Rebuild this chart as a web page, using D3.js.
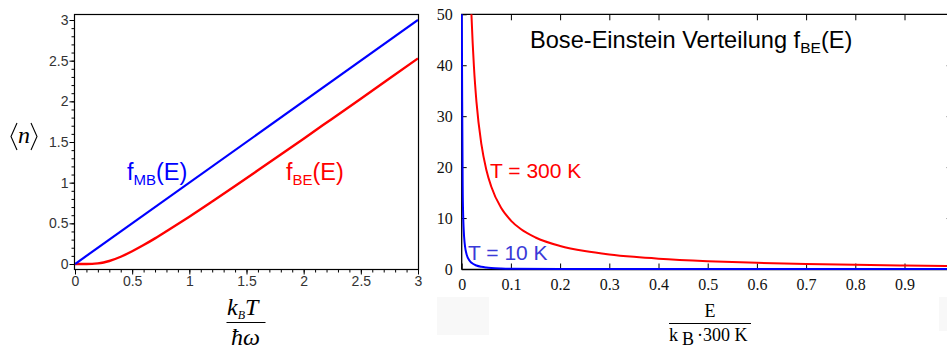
<!DOCTYPE html>
<html>
<head>
<meta charset="utf-8">
<script src="https://cdn.jsdelivr.net/npm/d3@7"></script>
<style>
  body { margin: 0; background: #fff; }
  svg { display: block; }
</style>
</head>
<body>
<div id="chart"></div>
<script>
// left panel: mean occupation vs kT/hw
const mbT = [0, 3];
const mbN = [0, 3];
const beT = [0, 0.1, 0.15, 0.2, 0.25, 0.3, 0.4, 0.5, 0.6, 0.7, 0.8, 0.9, 1.0, 1.2, 1.4, 1.6, 1.8, 2.0, 2.25, 2.5, 2.75, 3.0];
const beN = [0, 0, 0.001, 0.007, 0.019, 0.037, 0.089, 0.157, 0.233, 0.315, 0.402, 0.491, 0.582, 0.769, 0.959, 1.152, 1.346, 1.541, 1.787, 2.033, 2.28, 2.528];
const leftTicks = [0, 0.5, 1, 1.5, 2, 2.5, 3];

// right panel: Bose-Einstein distribution, E in units of kB*300K
const energy300 = [0.019, 0.02, 0.025, 0.03, 0.04, 0.05, 0.06, 0.08, 0.1, 0.12, 0.15, 0.2, 0.25, 0.3, 0.35, 0.4, 0.5, 0.6, 0.7, 0.8, 0.9, 1.0];
const f300 = [52.1, 49.5, 39.5, 32.8, 24.5, 19.5, 16.2, 12.0, 9.51, 7.84, 6.18, 4.52, 3.52, 2.86, 2.39, 2.03, 1.54, 1.22, 0.99, 0.82, 0.69, 0.58];
const energy10 = [0, 0.001, 0.002, 0.003, 0.004, 0.006, 0.008, 0.01, 0.015, 0.02, 0.03, 0.04, 0.05, 0.06, 0.08, 0.1, 0.2, 0.4, 0.6, 0.8, 1.0];
const f10 = [55, 32.8, 16.2, 10.6, 7.84, 5.07, 3.69, 2.86, 1.76, 1.22, 0.69, 0.43, 0.29, 0.2, 0.1, 0.05, 0, 0, 0, 0, 0];
const rightXTicks = [0, 0.1, 0.2, 0.3, 0.4, 0.5, 0.6, 0.7, 0.8, 0.9];
const rightYTicks = [0, 10, 20, 30, 40, 50];

const W = 947, H = 349;
const sans = 'Liberation Sans, Arial, sans-serif';
const serif = 'Liberation Serif, Times New Roman, serif';

const svg = d3.select('#chart').append('svg')
  .attr('width', W).attr('height', H)
  .style('font-family', sans);

svg.append('rect').attr('width', W).attr('height', H).attr('fill', '#fff');

// ---------- left panel ----------
const xL = d3.scaleLinear().domain([0, 3]).range([75, 418]);
const yL = d3.scaleLinear().domain([0, 3]).range([264, 20]);
const gL = svg.append('g');

gL.append('rect')
  .attr('x', 74.5).attr('y', 14.5)
  .attr('width', 344).attr('height', 255)
  .attr('fill', 'none').attr('stroke', '#000').attr('stroke-width', 1.2);

const minor = d3.range(0, 3.01, 0.1).map(d => +d.toFixed(1));

// minor ticks
gL.append('g').attr('transform', 'translate(0,269.5)')
  .call(d3.axisBottom(xL).tickValues(minor).tickSize(3).tickFormat(''))
  .call(g => g.select('.domain').remove());
gL.append('g').attr('transform', 'translate(74.5,0)')
  .call(d3.axisLeft(yL).tickValues(minor).tickSize(3).tickFormat(''))
  .call(g => g.select('.domain').remove());

// major ticks + labels
const fmt = d => d3.format('~g')(d);
const sansTick = g => g.selectAll('text')
  .style('font-family', sans).style('font-size', '14px').style('fill', '#333');
gL.append('g').attr('transform', 'translate(0,269.5)')
  .call(d3.axisBottom(xL).tickValues(leftTicks).tickSize(5).tickPadding(2).tickFormat(fmt))
  .call(g => g.select('.domain').remove())
  .call(sansTick);
gL.append('g').attr('transform', 'translate(74.5,0)')
  .call(d3.axisLeft(yL).tickValues(leftTicks).tickSize(5).tickPadding(1).tickFormat(fmt))
  .call(g => g.select('.domain').remove())
  .call(sansTick);

gL.selectAll('.tick line').attr('stroke', '#000');

gL.append('clipPath').attr('id', 'clipL')
  .append('rect').attr('x', 75).attr('y', 15).attr('width', 343).attr('height', 254);

const lineL = d3.line().x(d => xL(d[0])).y(d => yL(d[1])).curve(d3.curveMonotoneX);

gL.append('path')
  .datum(beT.map((t, i) => [t, beN[i]]))
  .attr('d', lineL).attr('fill', 'none')
  .attr('stroke', '#ff0000').attr('stroke-width', 2.4)
  .attr('clip-path', 'url(#clipL)');
gL.append('path')
  .datum(mbT.map((t, i) => [t, mbN[i]]))
  .attr('d', lineL).attr('fill', 'none')
  .attr('stroke', '#0000ff').attr('stroke-width', 2.2)
  .attr('clip-path', 'url(#clipL)');

// annotations
const tMB = gL.append('text').attr('x', 127).attr('y', 180).style('font-size', '23.5px').attr('fill', '#0000ff');
tMB.append('tspan').text('f');
tMB.append('tspan').style('font-size', '15px').attr('dy', 5).text('MB');
tMB.append('tspan').attr('dy', -5).text('(E)');

const tBE = gL.append('text').attr('x', 286).attr('y', 180).style('font-size', '23.5px').attr('fill', '#ff0000');
tBE.append('tspan').text('f');
tBE.append('tspan').style('font-size', '15px').attr('dy', 5).text('BE');
tBE.append('tspan').attr('dy', -5).text('(E)');

// y label <n>
gL.append('path')
  .attr('d', 'M17,123 L11,136.5 L17,150 M31,123 L37,136.5 L31,150')
  .attr('fill', 'none').attr('stroke', '#000').attr('stroke-width', 1.1);
gL.append('text').attr('x', 24).attr('y', 143)
  .attr('text-anchor', 'middle')
  .style('font-family', serif).style('font-style', 'italic').style('font-size', '24px').text('n');

// x label kB T / hbar omega
const num = gL.append('text').attr('x', 227).attr('y', 315)
  .style('font-family', serif).style('font-style', 'italic').style('font-size', '24px');
num.append('tspan').text('k');
num.append('tspan').style('font-size', '12px').attr('dy', 4).text('B');
num.append('tspan').attr('dy', -4).text('T');
gL.append('line').attr('x1', 226.5).attr('x2', 265.5).attr('y1', 322.5).attr('y2', 322.5)
  .attr('stroke', '#000').attr('stroke-width', 1.2);
gL.append('text').attr('x', 245.5).attr('y', 345).attr('text-anchor', 'middle')
  .style('font-family', serif).style('font-style', 'italic').style('font-size', '24px')
  .text('ħω');

// ---------- right panel ----------
const xR = d3.scaleLinear().domain([0, 1]).range([461.7, 953.7]);
const yR = d3.scaleLinear().domain([0, 50]).range([269, 14.3]);
const gR = svg.append('g');

// faint patches behind the axis label
gR.append('rect').attr('x', 437).attr('y', 297).attr('width', 52).attr('height', 38).attr('fill', '#f8f8f8');
gR.append('rect').attr('x', 939).attr('y', 297).attr('width', 8).attr('height', 34).attr('fill', '#f8f8f8');

gR.append('path')
  .attr('d', 'M461.7,269.5 L461.7,14.3 L947,14.3 M461.7,269.5 L947,269.5')
  .attr('fill', 'none').attr('stroke', '#000').attr('stroke-width', 1.3);

const serifTick = g => g.selectAll('text')
  .style('font-family', serif).style('font-size', '16px').style('fill', '#111');

gR.append('g').attr('transform', 'translate(0,269.5)')
  .call(d3.axisBottom(xR).tickValues(rightXTicks).tickSizeInner(-6).tickSizeOuter(0).tickPadding(9)
    .tickFormat(d3.format('~g')))
  .call(g => g.select('.domain').remove())
  .call(serifTick);
gR.append('g').attr('transform', 'translate(0,14.3)')
  .call(d3.axisTop(xR).tickValues(rightXTicks.slice(1)).tickSizeInner(-6).tickSizeOuter(0).tickFormat(''))
  .call(g => g.select('.domain').remove());
gR.append('g').attr('transform', 'translate(461.7,0)')
  .call(d3.axisLeft(yR).tickValues(rightYTicks).tickSizeInner(-5).tickSizeOuter(0).tickPadding(9)
    .tickFormat(d3.format('d')))
  .call(g => g.select('.domain').remove())
  .call(serifTick);
gR.append('g').attr('transform', 'translate(953.7,0)')
  .call(d3.axisRight(yR).tickValues(rightYTicks.slice(1, 5)).tickSizeInner(-7).tickSizeOuter(0).tickFormat(''))
  .call(g => g.select('.domain').remove());

gR.selectAll('.tick line').attr('stroke', '#000');

gR.append('clipPath').attr('id', 'clipR')
  .append('rect').attr('x', 461).attr('y', 14.3).attr('width', 490).attr('height', 256);

const lineR = d3.line().x(d => xR(d[0])).y(d => yR(d[1])).curve(d3.curveMonotoneX);

gR.append('path')
  .datum(energy300.map((e, i) => [e, f300[i]]))
  .attr('d', lineR).attr('fill', 'none')
  .attr('stroke', '#ff0000').attr('stroke-width', 2)
  .attr('clip-path', 'url(#clipR)');
gR.append('path')
  .datum(energy10.map((e, i) => [e, f10[i]]))
  .attr('d', lineR).attr('fill', 'none')
  .attr('stroke', '#0000ff').attr('stroke-width', 2)
  .attr('clip-path', 'url(#clipR)');

// title
const title = gR.append('text').attr('x', 530).attr('y', 48).style('font-size', '23.6px').attr('fill', '#000');
title.append('tspan').text('Bose-Einstein Verteilung f');
title.append('tspan').style('font-size', '15.5px').attr('dy', 5).text('BE');
title.append('tspan').attr('dy', -5).text('(E)');

gR.append('text').attr('x', 490).attr('y', 178).style('font-size', '21px').attr('fill', '#ff0000').text('T = 300 K');
gR.append('text').attr('x', 468).attr('y', 260).style('font-size', '21px').attr('fill', '#3a3ad8').text('T = 10 K');

// x label E / (kB . 300 K)
gR.append('text').attr('x', 710).attr('y', 317).attr('text-anchor', 'middle')
  .style('font-family', serif).style('font-size', '18px').text('E');
gR.append('line').attr('x1', 669).attr('x2', 751).attr('y1', 323.5).attr('y2', 323.5)
  .attr('stroke', '#000').attr('stroke-width', 1.2);
const den = gR.append('text').attr('x', 669).attr('y', 341)
  .style('font-family', serif).style('font-size', '18px');
den.append('tspan').text('k');
den.append('tspan').attr('dx', 4).attr('dy', 4).text('B');
den.append('tspan').attr('dx', 3).attr('dy', -4).text('·300 K');
</script>
</body>
</html>
